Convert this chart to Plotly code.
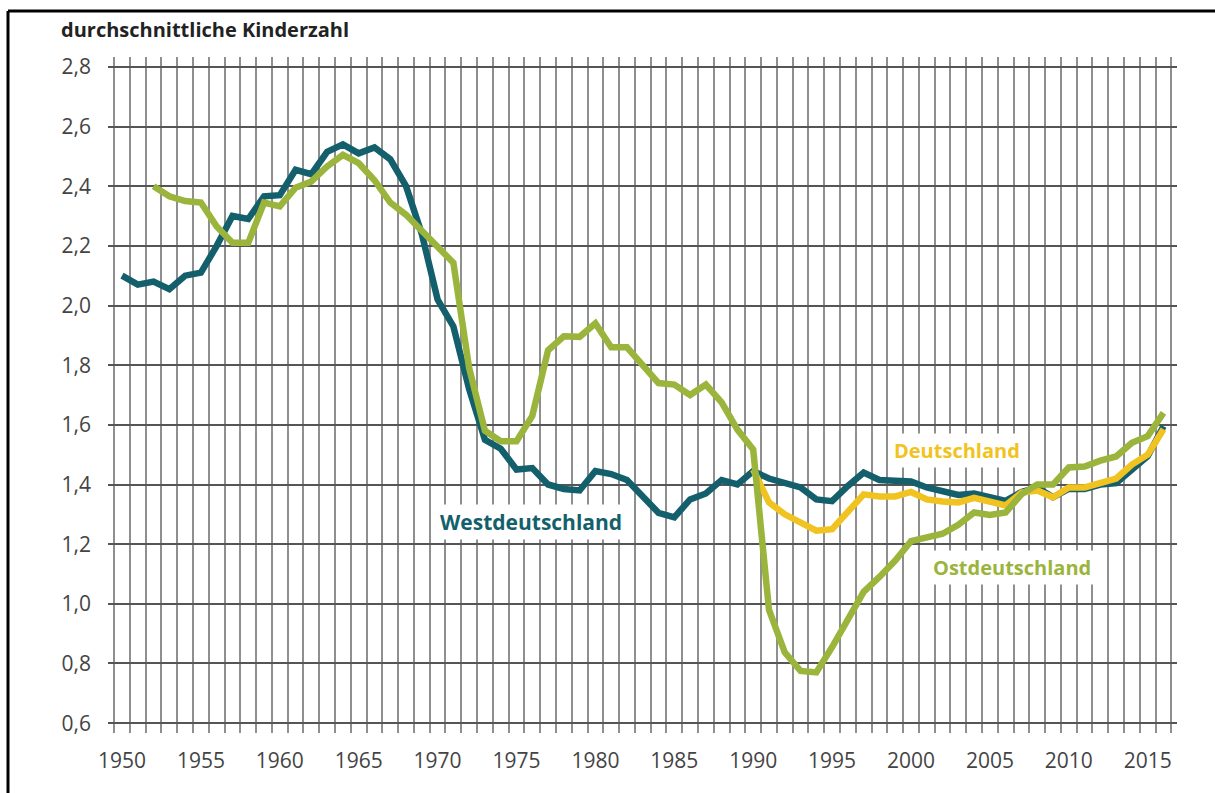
import plotly.graph_objects as go

# ---------------- data ----------------
years_west = list(range(1950, 2017))
west = [2.10, 2.07, 2.08, 2.055, 2.10, 2.11, 2.20, 2.30, 2.29, 2.366,
        2.37, 2.455, 2.44, 2.515, 2.54, 2.51, 2.53, 2.49, 2.40, 2.24,
        2.02, 1.93, 1.72, 1.55, 1.52, 1.45, 1.455, 1.40, 1.385, 1.38,
        1.445, 1.435, 1.415, 1.36, 1.305, 1.29, 1.35, 1.37, 1.415, 1.40,
        1.445, 1.42, 1.405, 1.39, 1.35, 1.344, 1.395, 1.44, 1.415, 1.41,
        1.41, 1.39, 1.375, 1.365, 1.37, 1.36, 1.345, 1.375, 1.39, 1.357,
        1.385, 1.385, 1.40, 1.405, 1.45, 1.495, 1.595]

years_east = list(range(1952, 2017))
east = [2.40, 2.366, 2.35, 2.345, 2.265, 2.21, 2.21, 2.345,
        2.332, 2.395, 2.416, 2.466, 2.505, 2.477, 2.42, 2.345, 2.304, 2.25,
        2.198, 2.143, 1.79, 1.58, 1.545, 1.545, 1.63, 1.85, 1.897, 1.895,
        1.94, 1.86, 1.86, 1.796, 1.74, 1.735, 1.70, 1.735, 1.675, 1.584,
        1.517, 0.98, 0.837, 0.775, 0.77, 0.855, 0.95, 1.04, 1.09, 1.145,
        1.21, 1.225, 1.235, 1.265, 1.306, 1.298, 1.306, 1.367, 1.40, 1.40,
        1.457, 1.46, 1.48, 1.494, 1.54, 1.562, 1.64]

years_de = list(range(1990, 2017))
germany = [1.45, 1.34, 1.30, 1.275, 1.245, 1.25, 1.31, 1.367, 1.36, 1.36,
           1.375, 1.35, 1.343, 1.34, 1.355, 1.343, 1.33, 1.373, 1.38, 1.357,
           1.39, 1.39, 1.405, 1.42, 1.467, 1.50, 1.585]

x_tick_vals = [1950, 1955, 1960, 1965, 1970, 1975, 1980, 1985, 1990, 1995,
               2000, 2005, 2010, 2015]
x_tick_text = [str(v) for v in x_tick_vals]
y_tick_vals = [0.6, 0.8, 1.0, 1.2, 1.4, 1.6, 1.8, 2.0, 2.2, 2.4, 2.6, 2.8]
y_tick_text = ["0,6", "0,8", "1,0", "1,2", "1,4", "1,6", "1,8", "2,0",
               "2,2", "2,4", "2,6", "2,8"]

# ---------------- style ----------------
W, H = 1215, 793
PL, PR, PT, PB = 108, 1177, 57, 733  # plot area in pixels
C_WEST = "#135f6c"
C_EAST = "#9ab43c"
C_DE = "#f1c320"
FONT = "Open Sans"
TXT = "#444444"


def pxx(px):
    return (px - PL) / (PR - PL)


def pxy(py):
    return (PB - py) / (PB - PT)


fig = go.Figure()
fig.add_trace(go.Scatter(x=years_west, y=west, mode="lines",
                         line=dict(color=C_WEST, width=6.5), name="Westdeutschland"))
fig.add_trace(go.Scatter(x=years_de, y=germany, mode="lines",
                         line=dict(color=C_DE, width=6.5), name="Deutschland"))
fig.add_trace(go.Scatter(x=years_east, y=east, mode="lines",
                         line=dict(color=C_EAST, width=6.5), name="Ostdeutschland"))

fig.update_layout(
    width=W, height=H, autosize=False,
    margin=dict(l=PL, r=W - PR, t=PT, b=H - PB, pad=0),
    paper_bgcolor="white", plot_bgcolor="white",
    showlegend=False,
    font=dict(family=FONT, color=TXT, size=19),
)

fig.update_xaxes(
    range=[1949.113, 2016.857],
    tickmode="array", tickvals=x_tick_vals, ticktext=x_tick_text,
    showgrid=False, zeroline=False, showline=False, ticks="",
    ticklabelstandoff=13,
    tickfont=dict(family=FONT, size=21, color=TXT),
    minor=dict(tickmode="linear", tick0=1949.5, dtick=1, showgrid=True,
               gridcolor="#8f8f8f", gridwidth=2, ticks=""),
)
fig.update_yaxes(
    range=[0.567, 2.833],
    tickmode="array", tickvals=y_tick_vals, ticktext=y_tick_text,
    showgrid=True, gridcolor="#555555", gridwidth=1.5,
    zeroline=False, showline=False, ticks="",
    ticklabelstandoff=16,
    tickfont=dict(family=FONT, size=21, color=TXT),
)

annotations = [
    dict(text="<b>durchschnittliche Kinderzahl</b>", xref="paper", yref="paper",
         x=pxx(59), y=pxy(29), xanchor="left", yanchor="middle", showarrow=False,
         font=dict(family=FONT, size=20, color="#222222")),
    dict(text="<b>Westdeutschland</b>", xref="paper", yref="paper",
         x=pxx(531), y=pxy(522), xanchor="center", yanchor="middle", showarrow=False,
         bgcolor="white", borderpad=3,
         font=dict(family=FONT, size=21, color=C_WEST)),
    dict(text="<b>Deutschland</b>", xref="paper", yref="paper",
         x=pxx(957), y=pxy(450), xanchor="center", yanchor="middle", showarrow=False,
         bgcolor="white", borderpad=3,
         font=dict(family=FONT, size=20, color=C_DE)),
    dict(text="<b>Ostdeutschland</b>", xref="paper", yref="paper",
         x=pxx(1012), y=pxy(567), xanchor="center", yanchor="middle", showarrow=False,
         bgcolor="white", borderpad=3,
         font=dict(family=FONT, size=20, color=C_EAST)),
]
fig.update_layout(annotations=annotations)

# frame lines (left and top) of the original graphic
fig.add_shape(type="line", xref="paper", yref="paper",
              x0=pxx(8), x1=pxx(8), y0=pxy(11), y1=pxy(H + 5),
              line=dict(color="black", width=3), layer="above")
fig.add_shape(type="line", xref="paper", yref="paper",
              x0=pxx(8), x1=pxx(W + 5), y0=pxy(11), y1=pxy(11),
              line=dict(color="black", width=3), layer="above")

fig.write_html("out.html",
               config={"displayModeBar": False},
               post_script="document.body.style.margin='0';document.body.style.overflow='hidden';")
